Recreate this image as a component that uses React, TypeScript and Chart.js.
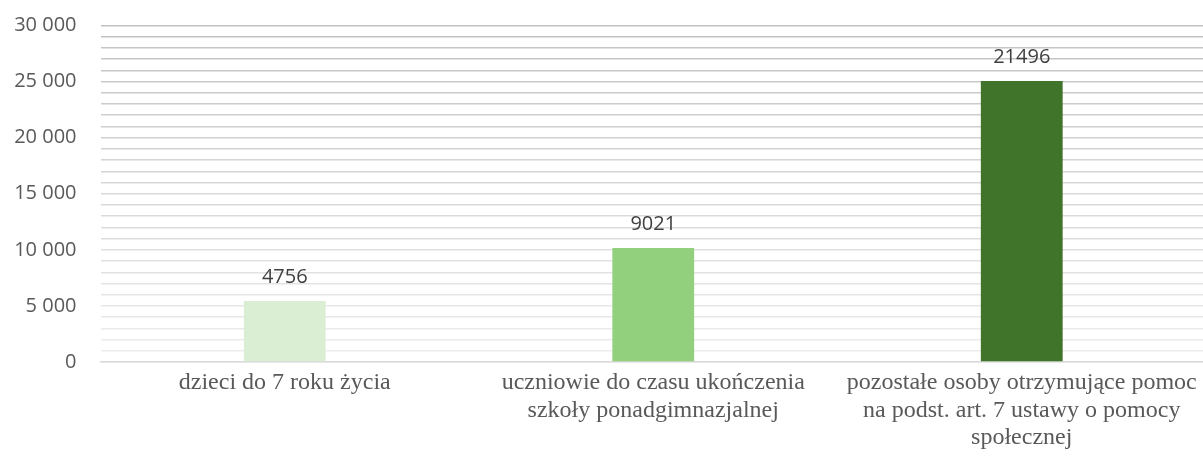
import React, { useEffect, useRef } from "react";
import { Chart, registerables } from "chart.js";

Chart.register(...registerables);

const categories: string[][] = [
  ["dzieci do 7 roku życia"],
  ["uczniowie do czasu ukończenia", "szkoły ponadgimnazjalnej"],
  ["pozostałe osoby otrzymujące pomoc", "na podst. art. 7 ustawy o pomocy", "społecznej"],
];
const barValues: number[] = [5440, 10160, 25050];
const valueLabels: string[] = ["4756", "9021", "21496"];
const barColors: string[] = ["#d9eed2", "#93d07d", "#40742b"];
const yMin = 0;
const yMax = 30000;
const yStep = 1000;
const yLabelStep = 5000;

const valueLabelPlugin = {
  id: "valueLabels",
  afterDatasetsDraw(chart: any) {
    const ctx = chart.ctx;
    const meta = chart.getDatasetMeta(0);
    ctx.save();
    ctx.font = "20px 'Open Sans'";
    ctx.fillStyle = "#404040";
    ctx.textAlign = "center";
    ctx.textBaseline = "alphabetic";
    meta.data.forEach((bar: any, i: number) => {
      ctx.fillText(valueLabels[i], bar.x, bar.y - 18);
    });
    ctx.restore();
  },
};

function gridColor(v: number): string {
  const c = Math.round(238 - (v / yMax) * 44);
  return `rgb(${c},${c},${c})`;
}

export default function App() {
  const ref = useRef<HTMLCanvasElement | null>(null);
  useEffect(() => {
    if (!ref.current) return;
    const chart = new Chart(ref.current, {
      type: "bar",
      data: {
        labels: categories,
        datasets: [
          {
            data: barValues,
            backgroundColor: barColors,
            borderWidth: 0,
            barPercentage: 0.222,
            categoryPercentage: 1,
          },
        ],
      },
      options: {
        animation: false,
        responsive: false,
        maintainAspectRatio: false,
        layout: { padding: { top: 25.5, left: 0, right: 0, bottom: 0 } },
        plugins: {
          legend: { display: false },
          tooltip: { enabled: false },
        },
        scales: {
          x: {
            grid: { display: false, drawTicks: false },
            border: { display: true, color: "#d9d9d9", width: 1.5 },
            ticks: {
              color: "#595959",
              font: { family: "'Liberation Serif'", size: 24, lineHeight: 1.15 },
              padding: 7,
              maxRotation: 0,
              autoSkip: false,
            },
            afterFit: (scale: any) => {
              scale.height = 97;
            },
          },
          y: {
            min: yMin,
            max: yMax,
            border: { display: false },
            grid: {
              drawTicks: true,
              tickLength: 24,
              tickColor: "rgba(0,0,0,0)",
              lineWidth: 1.5,
              color: (c: any) => gridColor(c.tick ? c.tick.value : 0),
            },
            ticks: {
              stepSize: yStep,
              color: "#595959",
              font: { family: "'Open Sans'", size: 20 },
              padding: 0,
              autoSkip: false,
              callback: (v: any) =>
                Number(v) % yLabelStep === 0
                  ? String(v).replace(/\B(?=(\d{3})+(?!\d))/g, " ")
                  : "",
            },
            afterFit: (scale: any) => {
              scale.width = 100.5;
            },
          },
        },
      },
      plugins: [valueLabelPlugin],
    });
    return () => chart.destroy();
  }, []);
  return (
    <div
      style={{
        position: "fixed",
        left: 0,
        top: 0,
        width: 1203,
        height: 459,
        overflow: "hidden",
        background: "#fff",
      }}
    >
      <canvas ref={ref} width={1206} height={459} style={{ display: "block" }} />
    </div>
  );
}
